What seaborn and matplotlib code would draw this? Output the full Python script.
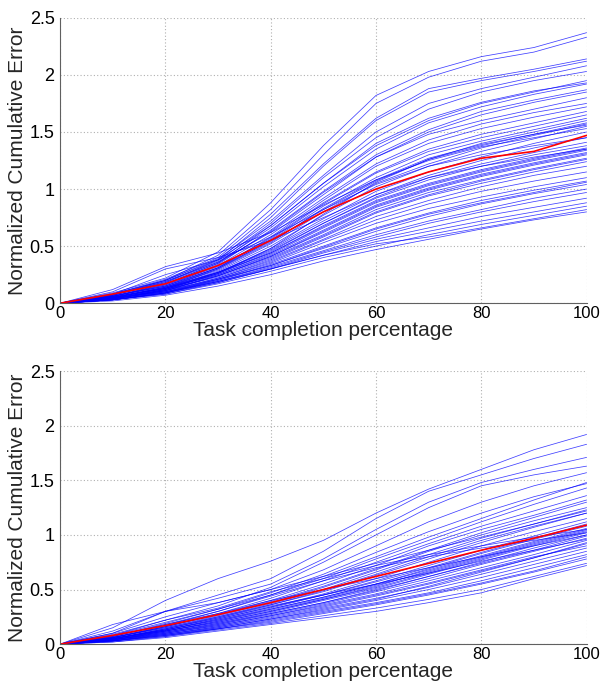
import numpy as np
import pandas as pd
import matplotlib
matplotlib.use("Agg")
import matplotlib.pyplot as plt
import seaborn as sns

sns.set_style("white")
plt.rcParams['font.family'] = ['Liberation Sans', 'DejaVu Sans']

x_pct = [0, 10, 20, 30, 40, 50, 60, 70, 80, 90, 100]

top_lines = [
    [0, .09, .22, .45, .88, 1.38, 1.82, 2.03, 2.16, 2.24, 2.37],
    [0, .08, .20, .42, .82, 1.30, 1.75, 1.98, 2.12, 2.20, 2.33],
    [0, .08, .21, .40, .78, 1.22, 1.62, 1.88, 1.97, 2.05, 2.14],
    [0, .07, .18, .38, .75, 1.20, 1.60, 1.85, 1.95, 2.03, 2.12],
    [0, .08, .20, .39, .72, 1.12, 1.50, 1.75, 1.88, 1.98, 2.08],
    [0, .07, .19, .37, .70, 1.10, 1.45, 1.70, 1.85, 1.95, 2.03],
    [0, .06, .17, .35, .68, 1.05, 1.38, 1.60, 1.75, 1.85, 1.95],
    [0, .07, .18, .36, .66, 1.02, 1.35, 1.58, 1.72, 1.83, 1.92],
    [0, .06, .16, .34, .64, .98, 1.30, 1.52, 1.68, 1.78, 1.87],
    [0, .07, .19, .36, .62, .95, 1.28, 1.50, 1.65, 1.76, 1.85],
    [0, .06, .15, .33, .60, .92, 1.22, 1.43, 1.57, 1.67, 1.75],
    [0, .05, .14, .31, .58, .90, 1.20, 1.40, 1.53, 1.63, 1.72],
    [0, .06, .16, .32, .57, .88, 1.15, 1.35, 1.48, 1.58, 1.68],
    [0, .05, .13, .30, .55, .85, 1.10, 1.30, 1.42, 1.52, 1.62],
    [0, .06, .15, .31, .54, .82, 1.07, 1.26, 1.40, 1.50, 1.60],
    [0, .05, .14, .29, .52, .80, 1.05, 1.22, 1.36, 1.47, 1.57],
    [0, .05, .13, .28, .50, .77, 1.02, 1.20, 1.33, 1.44, 1.55],
    [0, .04, .12, .27, .48, .74, .98, 1.15, 1.28, 1.40, 1.50],
    [0, .05, .13, .27, .47, .72, .95, 1.12, 1.25, 1.36, 1.45],
    [0, .04, .12, .26, .45, .70, .92, 1.08, 1.20, 1.30, 1.38],
    [0, .05, .14, .27, .44, .68, .90, 1.05, 1.17, 1.27, 1.36],
    [0, .04, .11, .25, .43, .66, .88, 1.03, 1.15, 1.25, 1.34],
    [0, .05, .13, .25, .42, .64, .86, 1.01, 1.13, 1.23, 1.32],
    [0, .04, .11, .24, .41, .62, .84, .99, 1.11, 1.21, 1.30],
    [0, .04, .12, .24, .40, .60, .82, .97, 1.08, 1.18, 1.27],
    [0, .03, .10, .22, .38, .58, .79, .94, 1.05, 1.15, 1.24],
    [0, .04, .11, .22, .37, .56, .76, .90, 1.02, 1.12, 1.20],
    [0, .03, .09, .21, .36, .55, .73, .87, .98, 1.07, 1.15],
    [0, .04, .10, .21, .35, .53, .70, .83, .93, 1.02, 1.10],
    [0, .03, .09, .20, .34, .50, .66, .79, .90, .99, 1.07],
    [0, .04, .11, .21, .33, .48, .63, .76, .87, .96, 1.04],
    [0, .03, .09, .19, .32, .46, .60, .72, .82, .92, 1.00],
    [0, .03, .08, .18, .30, .44, .56, .66, .76, .84, .92],
    [0, .04, .10, .19, .30, .42, .54, .63, .72, .80, .88],
    [0, .03, .08, .17, .28, .40, .50, .60, .69, .77, .85],
    [0, .03, .09, .18, .30, .42, .52, .58, .66, .74, .82],
    [0, .02, .07, .15, .25, .37, .47, .56, .65, .73, .80],
    [0, .12, .32, .44, .62, .86, 1.08, 1.25, 1.37, 1.45, 1.53],
    [0, .10, .30, .40, .55, .75, .95, 1.10, 1.20, 1.28, 1.35],
    [0, .05, .14, .30, .53, .83, 1.08, 1.27, 1.39, 1.48, 1.58],
    [0, .06, .15, .31, .56, .87, 1.14, 1.33, 1.45, 1.55, 1.65],
    [0, .05, .13, .27, .46, .70, .93, 1.10, 1.22, 1.32, 1.41],
    [0, .04, .12, .26, .44, .67, .89, 1.04, 1.16, 1.26, 1.35],
    [0, .04, .11, .24, .41, .63, .85, 1.00, 1.12, 1.22, 1.31],
    [0, .04, .12, .23, .39, .59, .80, .95, 1.07, 1.17, 1.26],
    [0, .05, .13, .26, .48, .78, 1.06, 1.26, 1.38, 1.48, 1.56],
    [0, .07, .20, .38, .68, 1.05, 1.40, 1.62, 1.76, 1.86, 1.93],
    [0, .06, .17, .35, .63, .97, 1.28, 1.48, 1.60, 1.70, 1.80],
    [0, .03, .09, .19, .31, .45, .58, .70, .80, .89, .97],
    [0, .04, .10, .20, .33, .49, .65, .78, .88, .97, 1.06],
    [0, .08, .25, .38, .58, .82, 1.04, 1.20, 1.30, 1.38, 1.45],
]
top_mean = [0, .08, .17, .33, .55, .80, 1.00, 1.15, 1.27, 1.33, 1.47]

bottom_lines = [
    [0, .15, .40, .60, .76, .95, 1.20, 1.42, 1.60, 1.78, 1.92],
    [0, .10, .30, .45, .60, .85, 1.15, 1.40, 1.55, 1.70, 1.83],
    [0, .12, .30, .42, .55, .78, 1.05, 1.30, 1.48, 1.60, 1.71],
    [0, .08, .22, .35, .52, .75, 1.00, 1.25, 1.45, 1.55, 1.63],
    [0, .18, .30, .38, .50, .68, .90, 1.12, 1.30, 1.45, 1.57],
    [0, .08, .20, .32, .45, .62, .80, .98, 1.15, 1.32, 1.48],
    [0, .07, .18, .30, .45, .60, .78, .95, 1.12, 1.28, 1.43],
    [0, .06, .16, .28, .42, .58, .75, .92, 1.08, 1.22, 1.36],
    [0, .07, .18, .28, .40, .55, .72, .90, 1.05, 1.18, 1.32],
    [0, .06, .15, .26, .38, .52, .68, .85, 1.00, 1.13, 1.25],
    [0, .05, .14, .25, .37, .50, .66, .82, .97, 1.10, 1.23],
    [0, .06, .15, .25, .36, .48, .63, .78, .93, 1.07, 1.20],
    [0, .05, .13, .23, .34, .46, .60, .75, .90, 1.03, 1.15],
    [0, .05, .13, .22, .33, .45, .58, .72, .86, .99, 1.12],
    [0, .04, .12, .21, .32, .43, .55, .69, .83, .96, 1.08],
    [0, .05, .12, .20, .30, .41, .53, .67, .80, .93, 1.05],
    [0, .04, .11, .19, .29, .40, .51, .64, .77, .90, 1.02],
    [0, .04, .10, .18, .28, .38, .49, .62, .75, .88, 1.00],
    [0, .04, .11, .18, .27, .37, .48, .60, .73, .85, .97],
    [0, .03, .10, .17, .26, .36, .46, .58, .70, .82, .95],
    [0, .04, .09, .16, .25, .34, .44, .55, .67, .79, .92],
    [0, .03, .09, .16, .24, .33, .42, .52, .64, .76, .88],
    [0, .03, .08, .15, .23, .31, .40, .50, .61, .73, .85],
    [0, .03, .08, .14, .22, .30, .38, .47, .58, .70, .82],
    [0, .03, .07, .14, .20, .28, .36, .45, .55, .66, .78],
    [0, .02, .07, .13, .19, .26, .33, .41, .50, .62, .74],
    [0, .02, .06, .12, .18, .24, .30, .38, .47, .60, .72],
    [0, .06, .16, .27, .40, .50, .60, .70, .80, .90, 1.00],
    [0, .05, .14, .24, .35, .45, .55, .65, .76, .86, .96],
    [0, .10, .25, .38, .50, .62, .74, .86, .98, 1.10, 1.22],
    [0, .09, .22, .33, .48, .60, .72, .82, .90, .98, 1.05],
    [0, .05, .13, .22, .32, .43, .55, .68, .81, .94, 1.06],
    [0, .04, .12, .20, .30, .41, .52, .65, .78, .91, 1.03],
    [0, .05, .12, .21, .31, .42, .54, .66, .79, .92, 1.04],
    [0, .04, .11, .19, .28, .38, .50, .62, .74, .86, .99],
    [0, .06, .16, .27, .39, .53, .69, .86, 1.02, 1.16, 1.30],
    [0, .07, .19, .32, .47, .64, .84, 1.03, 1.20, 1.35, 1.47],
    [0, .03, .09, .15, .23, .32, .41, .53, .66, .79, .93],
    [0, .05, .14, .24, .36, .49, .64, .80, .95, 1.08, 1.20],
    [0, .04, .10, .17, .26, .35, .45, .56, .68, .80, .90],
    [0, .06, .17, .30, .44, .58, .70, .80, .88, .95, 1.02],
    [0, .05, .13, .23, .34, .45, .57, .70, .84, .97, 1.10],
    [0, .03, .08, .14, .21, .29, .37, .46, .56, .67, .80],
]
bottom_mean = [0, .08, .17, .27, .38, .50, .62, .74, .86, .97, 1.09]

y_ticks = [0, 0.5, 1, 1.5, 2, 2.5]
y_tick_labels = ["0", "0.5", "1", "1.5", "2", "2.5"]
x_ticks = [0, 20, 40, 60, 80, 100]
x_label = "Task completion percentage"
y_label = "Normalized Cumulative Error"


def to_long(lines):
    rows = []
    for i, ys in enumerate(lines):
        for xv, yv in zip(x_pct, ys):
            rows.append((i, xv, yv))
    return pd.DataFrame(rows, columns=["run", "x", "y"])


fig = plt.figure(figsize=(6.01, 6.86), dpi=100)
ax1 = fig.add_axes([0.100, 0.558, 0.876, 0.416])
ax2 = fig.add_axes([0.100, 0.061, 0.876, 0.398])

for ax, lines, mean in [(ax1, top_lines, top_mean), (ax2, bottom_lines, bottom_mean)]:
    df = to_long(lines)
    sns.lineplot(data=df, x="x", y="y", units="run", estimator=None,
                 color="#0000ff", lw=0.55, alpha=0.75, ax=ax, legend=False)
    dm = pd.DataFrame({"x": x_pct, "y": mean})
    sns.lineplot(data=dm, x="x", y="y", color="#ff0000", lw=1.2, ax=ax, legend=False)
    ax.set_xlim(0, 100)
    ax.set_ylim(0, 2.5)
    ax.set_xticks(x_ticks)
    ax.set_xticklabels([str(t) for t in x_ticks])
    ax.set_yticks(y_ticks)
    ax.set_yticklabels(y_tick_labels)
    ax.grid(True, color="#b0b0b0", linestyle=(0, (1, 2)), lw=0.8)
    ax.set_axisbelow(True)
    for s in ["top", "right"]:
        ax.spines[s].set_visible(False)
    for s in ["left", "bottom"]:
        ax.spines[s].set_color("#606060")
        ax.spines[s].set_linewidth(0.8)
    ax.tick_params(axis="y", labelsize=13, length=0, pad=4, colors="black")
    ax.tick_params(axis="x", labelsize=12, length=0, pad=2, colors="black")
    ax.set_xlabel(x_label, fontsize=15, labelpad=0)
    ax.set_ylabel(y_label, fontsize=15, labelpad=2)

fig.savefig("out.png", dpi=100)
